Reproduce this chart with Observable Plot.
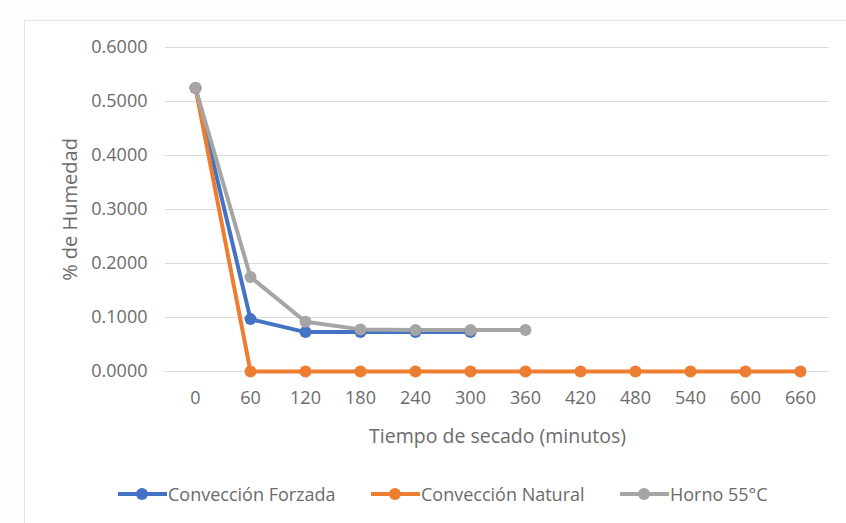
<!DOCTYPE html>
<html>
<head>
<meta charset="utf-8">
<script src="https://cdn.jsdelivr.net/npm/d3@7"></script>
<script src="https://cdn.jsdelivr.net/npm/@observablehq/plot@0.6"></script>
<style>
  html, body { margin: 0; padding: 0; background: #fdfdfd; }
  #wrap { position: relative; width: 846px; height: 523px; overflow: hidden; font-family: "Open Sans", sans-serif; }
  #frame { position: absolute; left: 24px; top: 20px; width: 900px; height: 600px; border: 1px solid #e3e3e3; background: #ffffff; }
  #chart { position: absolute; left: 0; top: 0; }
  #legend { position: absolute; left: 0; top: 481px; width: 846px; height: 26px; }
  .item { position: absolute; top: 0; display: flex; align-items: center; height: 26px; color: #6b6b6b; font-size: 18px; white-space: nowrap; }
  .sw { position: relative; width: 49px; height: 26px; margin-right: 1px; }
  .sw .ln { position: absolute; left: 0; right: 0; top: 11px; height: 4px; }
  .sw .dt { position: absolute; left: 18px; top: 7px; width: 12px; height: 12px; border-radius: 50%; }
</style>
</head>
<body>
<div id="wrap">
  <div id="frame"></div>
  <div id="chart"></div>
  <div id="legend"></div>
</div>
<script>
const times = ["0","60","120","180","240","300","360","420","480","540","600","660"];
const seriesNames = ["Convección Forzada", "Convección Natural", "Horno 55°C"];
const seriesColors = ["#4472C4", "#ED7D31", "#A5A5A5"];
const forzada = [0.525, 0.097, 0.073, 0.073, 0.073, 0.073];
const natural = [0.525, 0, 0, 0, 0, 0, 0, 0, 0, 0, 0, 0];
const horno = [0.525, 0.175, 0.092, 0.078, 0.077, 0.077, 0.077];
const yTicks = [0, 0.1, 0.2, 0.3, 0.4, 0.5, 0.6];

const seriesValues = [forzada, natural, horno];
const data = [];
seriesValues.forEach((vals, i) => {
  vals.forEach((v, j) => data.push({serie: seriesNames[i], t: times[j], v}));
});

const chart = Plot.plot({
  width: 846,
  height: 470,
  marginLeft: 165,
  marginRight: 17,
  marginTop: 47,
  marginBottom: 99,
  style: {fontFamily: "Open Sans, sans-serif", fontSize: "18px", color: "#6b6b6b", background: "transparent"},
  x: {type: "point", domain: times, padding: 0.5},
  y: {domain: [0, 0.6]},
  color: {domain: seriesNames, range: seriesColors},
  marks: [
    Plot.gridY(yTicks, {stroke: "#dcdcdc", strokeOpacity: 1, strokeWidth: 1}),
    Plot.axisY(yTicks, {tickSize: 0, tickPadding: 18, tickFormat: d3.format(".4f"), fontSize: 18, label: null}),
    Plot.axisY({tickSize: 0, ticks: [], label: "% de Humedad", labelAnchor: "center", labelArrow: "none", labelOffset: 103, fontSize: 20}),
    Plot.axisX({tickSize: 0, tickPadding: 20, fontSize: 18, label: null}),
    Plot.axisX({tickSize: 0, ticks: [], label: "Tiempo de secado (minutos)", labelAnchor: "center", labelArrow: "none", labelOffset: 71, fontSize: 19.5}),
    Plot.line(data, {x: "t", y: "v", z: "serie", stroke: "serie", strokeWidth: 4, strokeLinejoin: "round"}),
    Plot.dot(data, {x: "t", y: "v", fill: "serie", r: 6})
  ]
});
document.getElementById("chart").appendChild(chart);

const legend = document.getElementById("legend");
const lefts = [118, 371, 620];
seriesNames.forEach((name, i) => {
  const it = document.createElement("div");
  it.className = "item";
  it.style.left = lefts[i] + "px";
  it.innerHTML = `<div class="sw"><div class="ln" style="background:${seriesColors[i]}"></div><div class="dt" style="background:${seriesColors[i]}"></div></div><span>${name}</span>`;
  legend.appendChild(it);
});
</script>
</body>
</html>
